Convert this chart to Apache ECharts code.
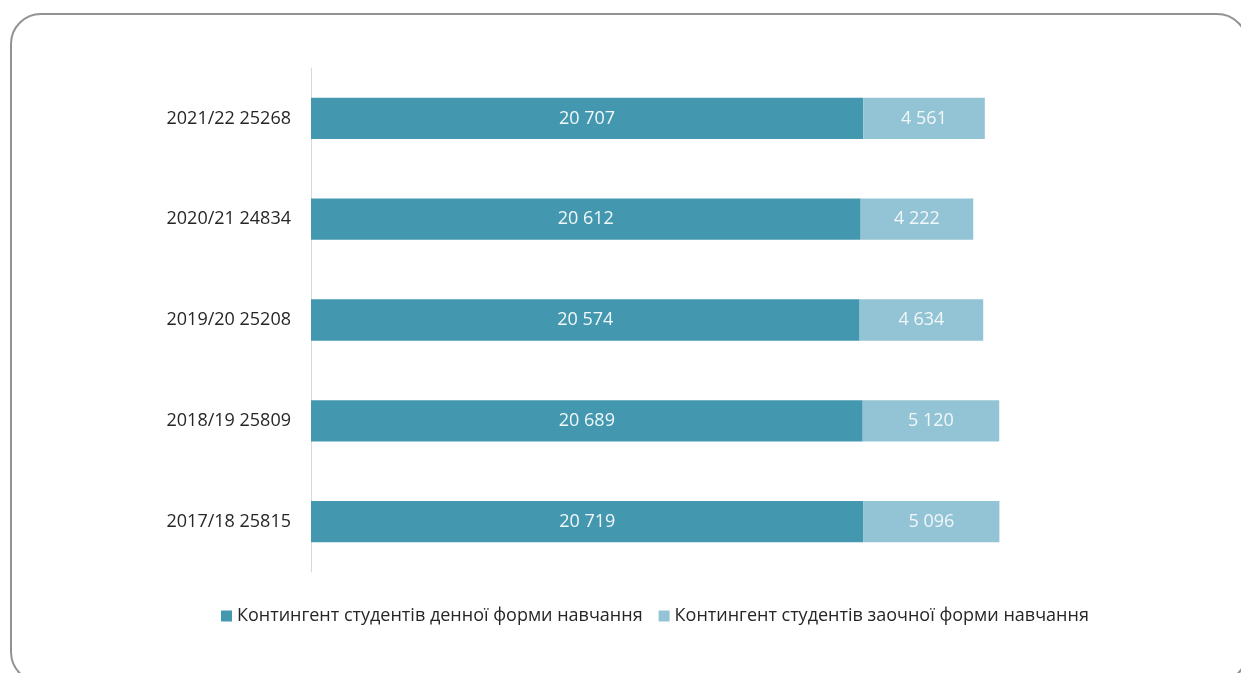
<!DOCTYPE html>
<html><head><meta charset="utf-8">
<script src="https://cdn.jsdelivr.net/npm/echarts@6/dist/echarts.min.js"></script>
<style>html,body{margin:0;padding:0;background:#fff}#c{width:1241px;height:673px}</style>
</head><body><div id="c"></div>
<script>
const categories = ['2017/18 25815','2018/19 25809','2019/20 25208','2020/21 24834','2021/22 25268'];
const fullTime = [20719, 20689, 20574, 20612, 20707];
const partTime = [5096, 5120, 4634, 4222, 4561];
const seriesNames = ['Контингент студентів денної форми навчання','Контингент студентів заочної форми навчання'];
const colors = ['#4398b0', '#93c4d5'];
const fmt = v => String(v).replace(/\B(?=(\d{3})+(?!\d))/g, ' ');
const font = "'Open Sans', 'Noto Sans', sans-serif";
const chart = echarts.init(document.getElementById('c'));
chart.setOption({
  animation: false,
  textStyle: { fontFamily: font },
  graphic: [{
    type: 'rect', silent: true, z: -1,
    shape: { x: 11, y: 14, width: 1236, height: 668, r: 30 },
    style: { fill: 'none', stroke: '#929292', lineWidth: 2 }
  }],
  grid: { left: 311, right: 130, top: 68, bottom: 101 },
  xAxis: { type: 'value', min: 0, max: 30000, show: false },
  yAxis: {
    type: 'category', data: categories,
    axisLine: { show: true, lineStyle: { color: '#d9d9d9', width: 1 } },
    axisTick: { show: false },
    axisLabel: { color: '#262626', fontSize: 18, margin: 20, fontFamily: font }
  },
  legend: {
    top: 602, left: 216, itemWidth: 11, itemHeight: 11, itemGap: 16,
    icon: 'rect', textStyle: { color: '#262626', fontSize: 18, fontFamily: font },
    data: seriesNames
  },
  series: [
    { name: seriesNames[0], type: 'bar', stack: 's', data: fullTime, barCategoryGap: '59%',
      itemStyle: { color: colors[0] },
      label: { show: true, position: 'inside', color: '#f2f8fa', fontSize: 18, formatter: p => fmt(p.value) } },
    { name: seriesNames[1], type: 'bar', stack: 's', data: partTime,
      itemStyle: { color: colors[1] },
      label: { show: true, position: 'inside', color: '#f2f8fa', fontSize: 18, formatter: p => fmt(p.value) } }
  ]
});
</script></body></html>
